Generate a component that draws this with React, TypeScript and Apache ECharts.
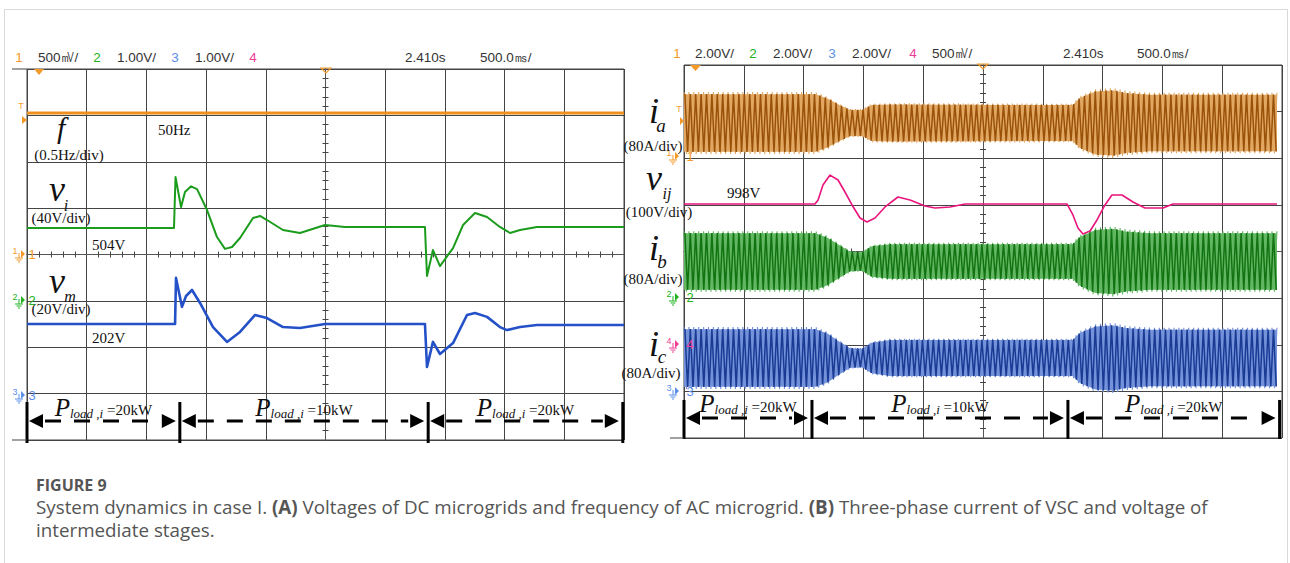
import React, { useEffect, useRef } from "react";
import * as echarts from "echarts";

// ---------------- Panel (A): DC voltages & AC frequency ----------------
// time: seconds relative to the trigger point (screen centre), 500 ms/div
const fData: [number, number][] = [[-2.5, 50], [2.5, 50]]; // Hz
const viData: [number, number][] = [
  [-2.5, 504], [-1.269, 504], [-1.256, 548], [-1.21, 522], [-1.177, 535], [-1.126, 540],
  [-1.076, 537.6], [-0.992, 519.5], [-0.909, 496.2], [-0.842, 486], [-0.783, 487.6],
  [-0.716, 495.4], [-0.607, 512.6], [-0.548, 514.4], [-0.49, 510.9], [-0.356, 502.3],
  [-0.214, 499.7], [-0.004, 506.6], [0.163, 504.9], [0.833, 504.9], [0.85, 462.6],
  [0.9, 485], [0.959, 471.2], [1.068, 486.7], [1.152, 506.6], [1.252, 516.9], [1.353, 513.5],
  [1.461, 504.9], [1.545, 499.7], [1.629, 502.3], [1.771, 504.9], [2.5, 504.9],
]; // V
const vmData: [number, number][] = [
  [-2.5, 202.4], [-1.26, 202.4], [-1.252, 222.3], [-1.202, 209.8], [-1.168, 214.5],
  [-1.118, 217.1], [-1.051, 211.5], [-0.942, 201.1], [-0.825, 194.7], [-0.716, 199],
  [-0.591, 206.3], [-0.49, 205], [-0.356, 201.1], [-0.214, 200.7], [-0.004, 202.4],
  [0.833, 202.4], [0.85, 183.9], [0.9, 194.7], [0.959, 189.5], [1.068, 194.2], [1.185, 206.3],
  [1.252, 207.2], [1.353, 205.5], [1.461, 201.1], [1.52, 199.8], [1.629, 201.1], [1.771, 202],
  [2.5, 202],
]; // V
const leftBounds = [-2.5, -1.22, 0.86, 2.49];
const leftLoads = [20, 10, 20]; // kW

// ---------------- Panel (B): three-phase VSC current & vij ----------------
const envTimes = [-2.5, -1.4, -1.3, -1.2, -1.11, -1.01, -0.93, -0.78, 0.75, 0.81, 0.94, 1.09, 1.2, 1.4, 2.458];
const iaAmp = [53, 53, 45, 33, 24, 24, 33, 34, 33, 46, 58, 60, 55, 52, 52]; // A (peak)
const ibAmp = [52, 52, 44, 30, 18, 17, 28, 32, 32, 45, 58, 60, 55, 52, 52];
const icAmp = [53, 53, 45, 30, 18, 17, 28, 33, 33, 46, 58, 60, 55, 52, 52];
const vijData: [number, number][] = [
  [-2.5, 998], [-1.405, 998], [-1.379, 1006.6], [-1.338, 1038.8], [-1.279, 1060],
  [-1.212, 1049.5], [-1.154, 1023.7], [-1.095, 995.9], [-1.028, 968], [-0.97, 959.4],
  [-0.903, 968], [-0.819, 991.6], [-0.711, 1013], [-0.61, 1006.6], [-0.485, 993.7],
  [-0.401, 989.4], [-0.276, 991.6], [-0.15, 998], [0.702, 998], [0.752, 974.4], [0.794, 946.5],
  [0.836, 933.6], [0.895, 940], [0.953, 963.7], [1.02, 995.9], [1.078, 1017.3], [1.162, 1017.3],
  [1.254, 1002.3], [1.354, 989.4], [1.505, 989.4], [1.588, 998], [2.458, 998],
]; // V
const rightBounds = [-2.5, -1.43, 0.71, 2.48];
const rightLoads = [20, 10, 20]; // kW

const SERIF = '"Liberation Serif", "Times New Roman", serif';
const SANS = '"Liberation Sans", Arial, sans-serif';
const CAP = '"Open Sans", "Noto Sans", sans-serif';

const C_OR = "#f39a2a";
const C_GR = "#22b322";
const C_BL = "#5b8fe8";
const C_PK = "#ee3d96";

const toDiv = (data: [number, number][], base: number, div0: number, perDiv: number) =>
  data.map(([t, v]) => [t, div0 + (v - base) / perDiv]);

function makeBand(gi: number, amps: number[], center: number, perDiv: number, dark: string, light: string) {
  return {
    type: "custom",
    xAxisIndex: gi * 2,
    yAxisIndex: gi * 2,
    silent: true,
    clip: false,
    z: 3,
    data: [[0]],
    renderItem: (_p: any, api: any) => {
      const env = envTimes.map((t, i) => {
        const c = api.coord([t, center]);
        const u = api.coord([t, center + amps[i] / perDiv]);
        return { x: c[0], cy: c[1], a: c[1] - u[1] };
      });
      const at = (x: number) => {
        for (let i = 1; i < env.length; i++) {
          if (x <= env[i].x) {
            const p = env[i - 1], q = env[i];
            const r = (x - p.x) / (q.x - p.x || 1);
            return [p.cy + (q.cy - p.cy) * r, p.a + (q.a - p.a) * r];
          }
        }
        const l = env[env.length - 1];
        return [l.cy, l.a];
      };
      const x0 = env[0].x, x1 = env[env.length - 1].x;
      const zig = (half: number, phase: number, shrink: number) => {
        const pts: number[][] = [];
        let k = 0;
        for (let x = x0 + phase; x <= x1; x += half, k++) {
          const [cy, a] = at(x);
          pts.push([x, k % 2 === 0 ? cy - a * shrink : cy + a * shrink]);
        }
        return pts;
      };
      const upper = env.map((e) => [e.x, e.cy - e.a * 0.93]);
      const lower = env.map((e) => [e.x, e.cy + e.a * 0.93]).reverse();
      return {
        type: "group",
        children: [
          { type: "polygon", shape: { points: upper.concat(lower) }, style: { fill: light } },
          { type: "polyline", shape: { points: zig(2.45, 0, 1) }, style: { stroke: light, lineWidth: 1.1, fill: null } },
          { type: "polyline", shape: { points: zig(2.7, 0.9, 0.94) }, style: { stroke: dark, lineWidth: 1.5, fill: null } },
        ],
      };
    },
  };
}

const pRich = {
  p: { fontFamily: SERIF, fontStyle: "italic", fontSize: 25, fill: "#111", verticalAlign: "bottom" },
  s: { fontFamily: SERIF, fontStyle: "italic", fontSize: 13, fill: "#111", verticalAlign: "bottom" },
  v: { fontFamily: SERIF, fontSize: 15, fill: "#111", verticalAlign: "bottom", padding: [0, 0, 2, 0] },
};

function makeArrows(gi: number, bounds: number[], loads: number[], arrowDiv: number, textDiv: number, barUp: number, barDown: number) {
  const data = loads.map((l, i) => [bounds[i], bounds[i + 1], l, i === loads.length - 1 ? 1 : 0]);
  return {
    type: "custom",
    xAxisIndex: gi * 2,
    yAxisIndex: gi * 2,
    silent: true,
    clip: false,
    z: 10,
    data,
    renderItem: (_p: any, api: any) => {
      const a = api.coord([api.value(0), arrowDiv]);
      const b = api.coord([api.value(1), arrowDiv]);
      const tp = api.coord([(api.value(0) + api.value(1)) / 2, textDiv]);
      const y = a[1];
      const bar = (x: number) => ({
        type: "line",
        shape: { x1: x, y1: y - barUp, x2: x, y2: y + barDown },
        style: { stroke: "#000", lineWidth: 3 },
      });
      const children: any[] = [bar(a[0])];
      if (api.value(3)) children.push(bar(b[0]));
      children.push({ type: "polygon", shape: { points: [[a[0] + 2, y], [a[0] + 16, y - 7], [a[0] + 16, y + 7]] }, style: { fill: "#000" } });
      children.push({ type: "polygon", shape: { points: [[b[0] - 4, y], [b[0] - 18, y - 7], [b[0] - 18, y + 7]] }, style: { fill: "#000" } });
      children.push({
        type: "line",
        shape: { x1: a[0] + 18, y1: y, x2: b[0] - 20, y2: y },
        style: { stroke: "#000", lineWidth: 3, lineDash: [16, 13] },
      });
      children.push({
        type: "text",
        style: {
          text: `{p|P}{s|load ,i}{v| =${api.value(2)}kW}`,
          rich: pRich,
          x: tp[0],
          y: tp[1],
          align: "center",
          textAlign: "center",
          verticalAlign: "middle",
          textVerticalAlign: "middle",
        },
      });
      return { type: "group", children };
    },
  };
}

const txt = (text: string, x: number, y: number, o: any = {}) => ({
  type: "text",
  x,
  y,
  silent: true,
  z: 20,
  style: {
    text,
    fill: o.fill ?? "#111",
    fontSize: o.size ?? 15,
    fontFamily: o.family ?? SERIF,
    fontStyle: o.italic ? "italic" : "normal",
    fontWeight: o.bold ? "bold" : "normal",
    align: o.align ?? "left",
    textAlign: o.align ?? "left",
    verticalAlign: "middle",
    textVerticalAlign: "middle",
    rich: o.rich,
  },
});

const ln = (x1: number, y1: number, x2: number, y2: number, stroke: string, w = 1) => ({
  type: "line",
  silent: true,
  z: 15,
  shape: { x1, y1, x2, y2 },
  style: { stroke, lineWidth: w },
});

const poly = (points: number[][], fill: string | null, stroke?: string) => ({
  type: "polygon",
  silent: true,
  z: 15,
  shape: { points },
  style: { fill: fill ?? "none", stroke: stroke ?? "none", lineWidth: 1.2 },
});

function ground(xs: number, y: number, label: string, color: string, xb: number) {
  return [
    txt(label, xs, y - 3, { size: 9, family: SANS, fill: color, align: "center" }),
    ln(xs + 4, y - 1, xs + 4, y + 4, color),
    ln(xs, y + 4, xs + 8, y + 4, color),
    ln(xs + 1.5, y + 6, xs + 6.5, y + 6, color),
    ln(xs + 3, y + 8, xs + 5, y + 8, color),
    poly([[xs + 6, y - 4], [xs + 10, y], [xs + 6, y + 4]], color),
    txt(label, xb, y, { size: 13, family: SANS, fill: color, align: "center" }),
  ];
}

const hdr = (items: [string, number, string, boolean][], y: number) =>
  items.map(([t, x, c, center]) => txt(t, x, y, { size: 13.5, family: SANS, fill: c, align: center ? "center" : "left" }));

function buildOption() {
  const grids = [
    { left: 27, top: 69, width: 597, height: 371, show: true, borderColor: "#444", borderWidth: 1, backgroundColor: "transparent" },
    { left: 684, top: 65, width: 598, height: 373, show: true, borderColor: "#444", borderWidth: 1, backgroundColor: "transparent" },
  ];
  const mkX = (gi: number, pos: string, split: boolean) => ({
    type: "value",
    gridIndex: gi,
    min: -2.5,
    max: 2.5,
    interval: 0.5,
    position: pos,
    axisLine: { show: true, onZero: true, lineStyle: { color: "#555", width: 1 } },
    axisTick: { show: false },
    minorTick: { show: true, splitNumber: 5, length: 3, lineStyle: { color: "#444", width: 1 } },
    axisLabel: { show: false },
    splitLine: { show: split, lineStyle: { color: "#444", width: 1 } },
  });
  const mkY = (gi: number, pos: string, split: boolean) => ({
    type: "value",
    gridIndex: gi,
    min: -4,
    max: 4,
    interval: 1,
    position: pos,
    axisLine: { show: true, onZero: true, lineStyle: { color: "#555", width: 1 } },
    axisTick: { show: false },
    minorTick: { show: true, splitNumber: 5, length: 3, lineStyle: { color: "#444", width: 1 } },
    axisLabel: { show: false },
    splitLine: { show: split, lineStyle: { color: "#444", width: 1 } },
  });

  const line = (gi: number, data: any[], color: string, width: number, z = 5) => ({
    type: "line",
    xAxisIndex: gi * 2,
    yAxisIndex: gi * 2,
    data,
    showSymbol: false,
    silent: true,
    z,
    lineStyle: { color, width, join: "round" },
  });

  const series: any[] = [
    line(0, toDiv(fData, 50, 3.051, 0.5), "#ee9020", 3),
    line(0, toDiv(viData, 504, 0.571, 40), "#1c9c1c", 2),
    line(0, toDiv(vmData, 202, -1.52, 20), "#2451c8", 2.6),
    makeBand(1, iaAmp, 2.756, 80, "#9a520a", "#e2a862"),
    makeBand(1, ibAmp, -0.214, 80, "#137313", "#62b862"),
    makeBand(1, icAmp, -2.284, 80, "#1a3a94", "#7392da"),
    line(1, toDiv(vijData, 998, 1.019, 100), "#e8157c", 1.6, 6),
    makeArrows(0, leftBounds, leftLoads, -3.59, -3.29, 19, 22),
    makeArrows(1, rightBounds, rightLoads, -3.57, -3.27, 18, 21),
  ];

  const elements: any[] = [
    // outer frame
    { type: "rect", silent: true, z: 0, shape: { x: 4.5, y: 9.5, width: 1283, height: 560 }, style: { fill: "none", stroke: "#d9d9d9", lineWidth: 1 } },
    ln(12, 69, 27, 69, "#444"),
    ln(12, 440, 27, 440, "#444"),
    ln(670, 438, 684, 438, "#444"),
    // headers
    ...hdr([
      ["1", 19, C_OR, true], ["500㎷/", 38, "#333", false], ["2", 97, C_GR, true], ["1.00V/", 117, "#333", false],
      ["3", 175, C_BL, true], ["1.00V/", 195, "#333", false], ["4", 253, C_PK, true],
      ["2.410s", 405, "#333", false], ["500.0㎳/", 480, "#333", false],
    ], 57),
    ...hdr([
      ["1", 677, C_OR, true], ["2.00V/", 695, "#333", false], ["2", 753, C_GR, true], ["2.00V/", 773, "#333", false],
      ["3", 832, C_BL, true], ["2.00V/", 852, "#333", false], ["4", 913, C_PK, true], ["500㎷/", 932, "#333", false],
      ["2.410s", 1063, "#333", false], ["500.0㎳/", 1137, "#333", false],
    ], 53),
    // trigger markers
    poly([[34, 69], [44, 69], [39, 75]], C_OR),
    poly([[321, 68], [331, 68], [326, 73]], null, C_OR),
    poly([[690, 65], [701, 65], [695.5, 71]], C_OR),
    poly([[978, 64], [988, 64], [983, 69]], null, C_OR),
    txt("T", 21, 106, { size: 9, family: SANS, fill: C_OR, align: "center" }),
    poly([[22, 116], [27, 120], [22, 124]], C_OR),
    txt("T", 679, 109, { size: 9, family: SANS, fill: C_OR, align: "center" }),
    poly([[680, 117], [684, 121], [680, 125]], C_OR),
    ...ground(15, 254, "1", C_OR, 32),
    ...ground(15, 300, "2", C_GR, 32),
    ...ground(15, 395, "3", C_BL, 32),
    ...ground(669, 156, "1", C_OR, 690),
    ...ground(669, 297, "2", C_GR, 690),
    ...ground(669, 344, "4", C_PK, 690),
    ...ground(669, 391, "3", C_BL, 690),
    // left labels
    txt("f", 57, 127, { size: 30, italic: true }),
    txt("(0.5Hz/div)", 69, 155, { size: 15, align: "center" }),
    txt("50Hz", 158, 130, { size: 15 }),
    txt("v", 57, 189, { size: 36, italic: true, align: "center" }),
    txt("i", 66, 205, { size: 16, italic: true, align: "center" }),
    txt("(40V/div)", 61, 218, { size: 15, align: "center" }),
    txt("504V", 92, 245, { size: 15 }),
    txt("v", 57, 281, { size: 36, italic: true, align: "center" }),
    txt("m", 70, 296, { size: 16, italic: true, align: "center" }),
    txt("(20V/div)", 61, 309, { size: 15, align: "center" }),
    txt("202V", 92, 338, { size: 15 }),
    // right labels
    txt("i", 654, 111, { size: 36, italic: true, align: "center" }),
    txt("a", 661, 125, { size: 19, italic: true, align: "center" }),
    txt("(80A/div)", 653, 146, { size: 15, align: "center" }),
    txt("v", 654, 178, { size: 36, italic: true, align: "center" }),
    txt("ij", 667, 193, { size: 16, italic: true, align: "center" }),
    txt("998V", 727, 193, { size: 15 }),
    txt("(100V/div)", 659, 212, { size: 15, align: "center" }),
    txt("i", 654, 248, { size: 36, italic: true, align: "center" }),
    txt("b", 662, 261, { size: 19, italic: true, align: "center" }),
    txt("(80A/div)", 653, 279, { size: 15, align: "center" }),
    txt("i", 654, 344, { size: 36, italic: true, align: "center" }),
    txt("c", 662, 356, { size: 19, italic: true, align: "center" }),
    txt("(80A/div)", 651, 373, { size: 15, align: "center" }),
    // caption
    txt("FIGURE 9", 36, 485, { size: 16, family: CAP, bold: true, fill: "#555" }),
    txt(
      "{n|System dynamics in case I. }{b|(A)}{n| Voltages of DC microgrids and frequency of AC microgrid. }{b|(B)}{n| Three-phase current of VSC and voltage of}",
      36, 507,
      {
        rich: {
          n: { fontFamily: CAP, fontSize: 18.8, fill: "#555" },
          b: { fontFamily: CAP, fontSize: 18.8, fill: "#555", fontWeight: "bold" },
        },
      },
    ),
    txt("intermediate stages.", 36, 530, { size: 18.8, family: CAP, fill: "#555" }),
  ];

  return {
    animation: false,
    backgroundColor: "#ffffff",
    grid: grids,
    xAxis: [mkX(0, "bottom", true), mkX(0, "top", false), mkX(1, "bottom", true), mkX(1, "top", false)],
    yAxis: [mkY(0, "left", true), mkY(0, "right", false), mkY(1, "left", true), mkY(1, "right", false)],
    series,
    graphic: { elements },
  };
}

export default function App() {
  const ref = useRef<HTMLDivElement>(null);
  useEffect(() => {
    document.body.style.margin = "0";
    if (!ref.current) return;
    const chart = echarts.init(ref.current, undefined, { renderer: "svg" });
    chart.setOption(buildOption() as any);
    return () => chart.dispose();
  }, []);
  return <div ref={ref} style={{ width: 1290, height: 563 }} />;
}
